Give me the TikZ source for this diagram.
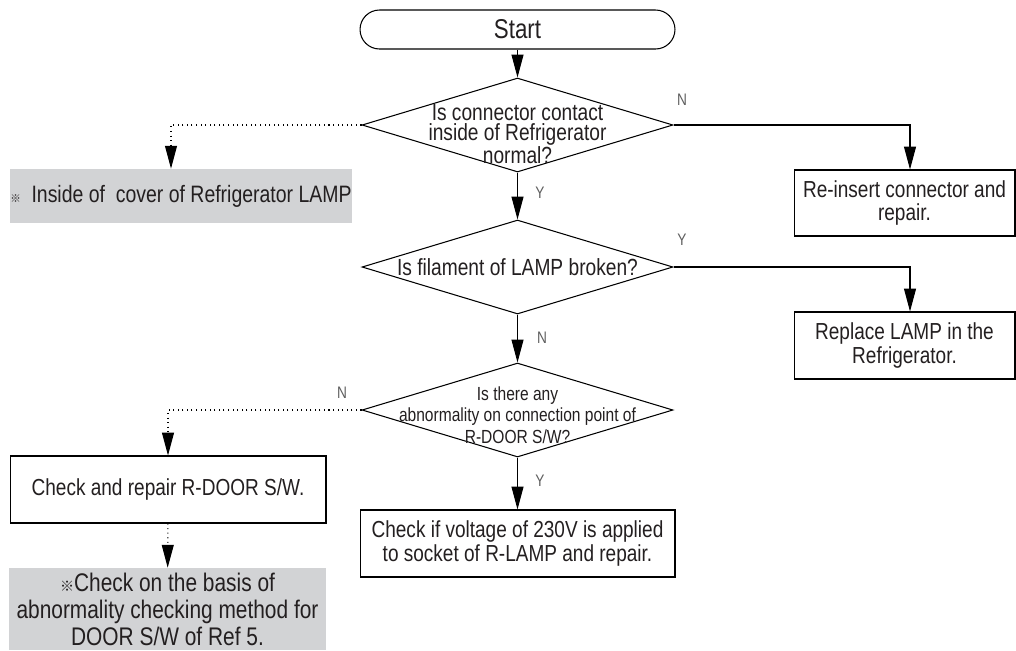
\documentclass[tikz,border=0pt]{standalone}
\usepackage{fontspec}
\setmainfont{Liberation Sans}[FakeStretch=0.82]
\newfontfamily\cjk{Noto Sans CJK SC}
\usepackage{tikz}
\usetikzlibrary{arrows.meta,shapes.geometric}
\definecolor{BoxGray}{RGB}{210,211,213}
\definecolor{TextDark}{RGB}{35,31,32}
\definecolor{LabelGray}{RGB}{95,95,95}

\begin{document}
\begin{tikzpicture}[x=0.02cm, y=-0.02cm,
    every node/.style={text=TextDark},
    flow/.style={draw, line width=0.6pt, -{Triangle[length=13pt,width=6.8pt]}},
    hint/.style={flow, dotted},
    decision/.style={draw, diamond, line width=0.6pt, minimum width=6.22cm, minimum height=1.88cm, inner sep=0pt},
    qtext/.style={align=center, inner sep=0pt, font=\fontsize{13.3}{11.3}\selectfont},
    stepbox/.style={draw, line width=0.6pt, align=center, inner sep=0pt, font=\fontsize{13.2}{13.6}\selectfont},
    notebox/.style={fill=BoxGray, align=center, inner sep=0pt},
    yn/.style={text=LabelGray, inner sep=0pt, font=\fontsize{9.5}{10}\selectfont}]
  \useasboundingbox (0,0) rectangle (1016,650);

  % main column
  \node[draw, line width=0.6pt, rounded corners=0.39cm, minimum width=6.3cm, minimum height=0.78cm,
    font=\fontsize{15.5}{16}\selectfont] (start) at (517.5,29.5) {Start};
  \node[decision] (d1) at (517.5,125) {};
  \node[qtext] (d1text) at (517.5,134) {Is connector contact\\inside of Refrigerator\\normal?};
  \node[decision] (d2) at (517.5,267) {};
  \node[qtext] (d2text) at (517.5,267) {Is filament of LAMP broken?};
  \node[decision] (d3) at (517.5,410) {};
  \node[qtext, font=\fontsize{10.8}{12.1}\selectfont] (d3text) at (517.5,415) {Is there any\\abnormality on connection point of\\R-DOOR S/W?};
  \node[stepbox, minimum width=6.3cm, minimum height=1.34cm] (b4) at (517.5,543.5)
    {Check if voltage of 230V is applied\\to socket of R-LAMP and repair.};

  % right column
  \node[stepbox, minimum width=4.42cm, minimum height=1.32cm] (r1) at (904.5,203) {Re-insert connector and\\repair.};
  \node[stepbox, minimum width=4.42cm, minimum height=1.34cm] (r2) at (904.5,345.5) {Replace LAMP in the\\Refrigerator.};

  % left column
  \node[notebox, minimum width=6.84cm, minimum height=1.08cm, font=\fontsize{13.5}{14}\selectfont] (g1) at (181,196)
    {{\cjk\fontsize{6}{6}\selectfont ※}\hspace{6pt}Inside of~~cover of Refrigerator LAMP};
  \node[stepbox, minimum width=6.32cm, minimum height=1.34cm] (b3) at (168,489.5) {Check and repair R-DOOR S/W.};
  \node[notebox, minimum width=6.34cm, minimum height=1.64cm, font=\fontsize{14.5}{15.3}\selectfont] (g2) at (167.5,609)
    {{\cjk\fontsize{8}{8}\selectfont ※}Check on the basis of\\abnormality checking method for\\DOOR S/W of Ref 5.};

  % connectors
  \draw[flow] (start) -- (d1);
  \draw[flow] (d1) -- (d2);
  \draw[flow] (d2) -- (d3);
  \draw[flow] (d3) -- (b4);
  \draw[flow] (d1.east) -| ([xshift=0.11cm]r1.north);
  \draw[flow] (d2.east) -| ([xshift=0.11cm]r2.north);
  \draw[hint] (d1.west) -| ([xshift=-0.2cm]g1.north);
  \draw[hint] (d3.west) -| (b3.north);
  \draw[hint] (b3) -- (g2);

  % branch labels
  \node[yn] (n1) at (682,100) {N};
  \node[yn] (y1) at (540,193) {Y};
  \node[yn] (y2) at (682,240) {Y};
  \node[yn] (n2) at (542,338) {N};
  \node[yn] (n3) at (342,393) {N};
  \node[yn] (y3) at (540,481) {Y};
\end{tikzpicture}
\end{document}
